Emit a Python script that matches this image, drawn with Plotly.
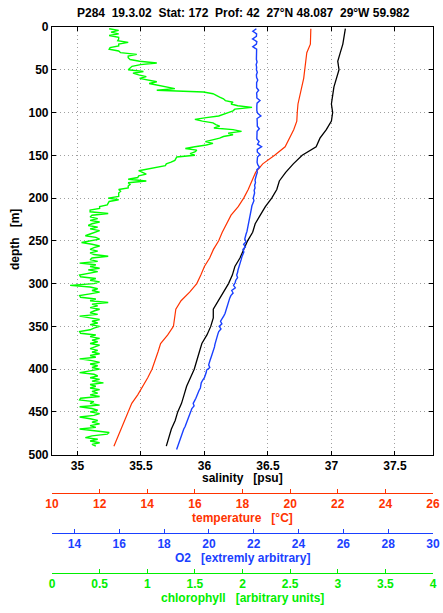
import plotly.graph_objects as go

# ---------------- data ----------------
depth_st = [2, 10, 20, 30, 40, 50, 60, 70, 80, 90, 100, 110, 120, 130, 140, 150, 160, 170, 180, 190,
            200, 210, 220, 230, 240, 250, 260, 270, 280, 290, 300, 310, 320, 330, 340, 350, 360, 370, 380, 390,
            400, 410, 420, 430, 440, 450, 460, 470, 480, 490]

salinity = [37.11, 37.10, 37.09, 37.07, 37.05, 37.06, 37.04, 37.02, 37.01, 37.00,
            37.01, 37.00, 36.96, 36.91, 36.88, 36.77, 36.70, 36.64, 36.59, 36.57,
            36.53, 36.48, 36.44, 36.40, 36.38, 36.34, 36.31, 36.28, 36.24, 36.22,
            36.19, 36.15, 36.11, 36.07, 36.07, 36.05, 36.02, 35.98, 35.96, 35.94,
            35.92, 35.89, 35.86, 35.84, 35.82, 35.79, 35.77, 35.74, 35.72, 35.70]

temperature = [20.87, 20.86, 20.85, 20.70, 20.65, 20.63, 20.57, 20.49, 20.40, 20.33,
               20.30, 20.28, 20.15, 19.98, 19.79, 19.35, 18.85, 18.55, 18.40, 18.24,
               18.05, 17.82, 17.52, 17.32, 17.15, 17.00, 16.78, 16.62, 16.40, 16.25,
               16.08, 15.78, 15.42, 15.20, 15.15, 15.10, 14.86, 14.56, 14.45, 14.32,
               14.20, 14.02, 13.82, 13.60, 13.35, 13.20, 13.06, 12.93, 12.78, 12.60]

depth_o2 = list(range(2, 495, 3))
oxygen = [22.12, 21.96, 22.13, 22.12, 21.95, 22.14, 22.12, 21.96, 22.13, 22.12,
          22.14, 22.10, 22.12, 22.15, 22.11, 22.13, 22.12, 22.16, 22.12, 22.13,
          22.18, 22.13, 22.12, 22.13, 22.22, 22.13, 22.14, 22.14, 22.28, 22.15,
          22.14, 22.13, 22.14, 22.18, 22.32, 22.15, 22.14, 22.16, 22.16, 22.25,
          22.15, 22.14, 22.16, 22.14, 22.24, 22.17, 22.35, 22.16, 22.16, 22.28,
          22.17, 22.15, 22.15, 22.18, 22.26, 22.14, 22.16, 22.12, 22.10, 22.06,
          22.08, 22.04, 22.06, 22.02, 22.04, 22.00, 21.98, 22.01, 21.96, 21.92,
          21.90, 21.88, 21.86, 21.84, 21.80, 21.78, 21.76, 21.74, 21.72, 21.70,
          21.66, 21.64, 21.60, 21.66, 21.55, 21.63, 21.52, 21.56, 21.50, 21.47,
          21.44, 21.40, 21.38, 21.35, 21.30, 21.28, 21.24, 21.28, 21.20, 21.17,
          21.10, 21.18, 21.02, 21.08, 20.98, 20.93, 20.90, 20.86, 20.82, 20.78,
          20.75, 20.72, 20.66, 20.60, 20.52, 20.58, 20.46, 20.54, 20.44, 20.40,
          20.36, 20.32, 20.30, 20.27, 20.25, 20.22, 20.18, 20.15, 20.10, 20.06,
          20.02, 19.99, 20.04, 19.90, 19.88, 19.84, 19.80, 19.72, 19.66, 19.64,
          19.62, 19.56, 19.52, 19.46, 19.42, 19.36, 19.30, 19.34, 19.24, 19.20,
          19.16, 19.12, 19.08, 19.02, 18.98, 18.94, 18.88, 18.84, 18.79, 18.75,
          18.72, 18.68, 18.62, 18.60, 18.56]

depth_chl = list(range(2, 491, 2))
chlorophyll = [0.60, 0.70, 0.62, 0.70, 0.60, 0.70, 0.70, 0.69, 0.80, 0.70,
               0.70, 0.61, 0.60, 0.70, 0.72, 0.89, 0.80, 0.80, 0.82, 0.92,
               1.10, 0.93, 0.84, 0.82, 0.80, 0.96, 0.85, 0.91, 0.99, 0.92,
               1.01, 1.10, 1.02, 1.10, 1.20, 1.29, 1.10, 1.59, 1.69, 1.72,
               1.76, 1.80, 1.82, 1.90, 1.88, 1.95, 2.10, 1.92, 1.90, 1.85,
               1.80, 1.75, 1.62, 1.50, 1.58, 1.69, 1.72, 1.76, 1.70, 1.90,
               1.99, 1.85, 1.90, 1.80, 1.76, 1.69, 1.61, 1.69, 1.62, 1.50,
               1.40, 1.52, 1.50, 1.45, 1.50, 1.31, 1.30, 1.29, 1.25, 1.20,
               1.19, 1.10, 0.99, 0.91, 0.95, 0.99, 0.91, 0.90, 0.80, 0.99,
               0.80, 0.82, 0.80, 0.80, 0.70, 0.72, 0.70, 0.70, 0.70, 0.59,
               0.70, 0.60, 0.59, 0.58, 0.50, 0.50, 0.40, 0.40, 0.59, 0.42,
               0.40, 0.48, 0.40, 0.50, 0.42, 0.38, 0.48, 0.40, 0.50, 0.44,
               0.40, 0.35, 0.46, 0.50, 0.40, 0.31, 0.42, 0.50, 0.44, 0.40,
               0.48, 0.40, 0.44, 0.59, 0.42, 0.40, 0.48, 0.29, 0.46, 0.40,
               0.50, 0.38, 0.48, 0.40, 0.29, 0.30, 0.46, 0.40, 0.50, 0.44,
               0.19, 0.40, 0.48, 0.42, 0.50, 0.40, 0.29, 0.30, 0.46, 0.40,
               0.59, 0.42, 0.48, 0.40, 0.50, 0.44, 0.40, 0.48, 0.29, 0.40,
               0.50, 0.42, 0.48, 0.40, 0.50, 0.44, 0.40, 0.29, 0.30, 0.46,
               0.40, 0.50, 0.42, 0.48, 0.40, 0.50, 0.44, 0.40, 0.48, 0.42,
               0.50, 0.40, 0.46, 0.29, 0.42, 0.50, 0.40, 0.48, 0.42, 0.50,
               0.40, 0.29, 0.44, 0.48, 0.40, 0.50, 0.42, 0.54, 0.40, 0.46,
               0.40, 0.50, 0.42, 0.48, 0.40, 0.50, 0.30, 0.29, 0.44, 0.40,
               0.50, 0.29, 0.42, 0.48, 0.40, 0.50, 0.44, 0.29, 0.40, 0.48,
               0.42, 0.50, 0.40, 0.46, 0.29, 0.42, 0.60, 0.58, 0.42, 0.35,
               0.48, 0.40, 0.50, 0.42, 0.46]

depth_ticks = [0, 50, 100, 150, 200, 250, 300, 350, 400, 450, 500]
sal_ticks = [35, 35.5, 36, 36.5, 37, 37.5]
temp_ticks = [10, 12, 14, 16, 18, 20, 22, 24, 26]
o2_ticks = [14, 16, 18, 20, 22, 24, 26, 28, 30]
chl_ticks = [0, 0.5, 1, 1.5, 2, 2.5, 3, 3.5, 4]

title_text = "P284\u00a0\u00a019.3.02\u00a0\u00a0Stat: 172\u00a0\u00a0Prof: 42\u00a0\u00a027°N 48.087\u00a0\u00a029°W 59.982"

# ---------------- style ----------------
RED = "#ff3300"
BLUE = "#1a40ff"
GREEN = "#00ee00"
FONT = "Liberation Sans, Arial, Helvetica, sans-serif"
GRID = dict(showgrid=True, gridcolor="#a0a0a0", griddash="1px,3px", gridwidth=1)

def f(color="black", size=12):
    return dict(family=FONT, size=size, color=color, weight="bold")

fig = go.Figure()
fig.add_trace(go.Scatter(x=chlorophyll, y=depth_chl, xaxis="x4", yaxis="y", mode="lines",
                         line=dict(color="#00ff00", width=1.4), showlegend=False))
fig.add_trace(go.Scatter(x=oxygen, y=depth_o2, xaxis="x3", yaxis="y", mode="lines",
                         line=dict(color=BLUE, width=1.4), showlegend=False))
fig.add_trace(go.Scatter(x=temperature, y=depth_st, xaxis="x2", yaxis="y", mode="lines",
                         line=dict(color=RED, width=1.2), showlegend=False))
fig.add_trace(go.Scatter(x=salinity, y=depth_st, xaxis="x", yaxis="y", mode="lines",
                         line=dict(color="black", width=1.3), showlegend=False))

# paper geometry: plot left 52, right 433, paper top 27, bottom 578
P_BOTTOM = 578.0
P_H = 551.0
def py(px):
    return (P_BOTTOM - px) / P_H
def pxx(px):
    return (px - 52.0) / 381.0

fig.update_layout(
    width=443, height=613,
    margin=dict(l=52, r=10, t=27, b=35, autoexpand=False),
    plot_bgcolor="white", paper_bgcolor="white",
    font=f(),
    yaxis=dict(domain=[py(454.7), 1], range=[500, 0], tickvals=depth_ticks,
               showline=True, linecolor="black", linewidth=1.2, mirror="ticks",
               ticks="inside", ticklen=4, tickcolor="black",
               zeroline=False, tickfont=f(), **GRID),
    xaxis=dict(range=[34.8, 37.8], tickvals=sal_ticks, anchor="y",
               showline=True, linecolor="black", linewidth=1.2, mirror="ticks",
               ticks="inside", ticklen=4, tickcolor="black",
               zeroline=False, tickfont=f(), **GRID),
    xaxis2=dict(range=[10, 26], tickvals=temp_ticks, overlaying="x", anchor="free",
                position=py(493), side="bottom", showline=True, linecolor=RED, linewidth=1,
                ticks="inside", ticklen=4, tickcolor=RED, showgrid=False, zeroline=False,
                tickfont=f(RED)),
    xaxis3=dict(range=[13, 30], tickvals=o2_ticks, overlaying="x", anchor="free",
                position=py(533), side="bottom", showline=True, linecolor=BLUE, linewidth=1,
                ticks="inside", ticklen=4, tickcolor=BLUE, showgrid=False, zeroline=False,
                tickfont=f(BLUE)),
    xaxis4=dict(range=[0, 4], tickvals=chl_ticks, overlaying="x", anchor="free",
                position=py(573), side="bottom", showline=True, linecolor=GREEN, linewidth=1,
                ticks="inside", ticklen=4, tickcolor=GREEN, showgrid=False, zeroline=False,
                tickfont=f(GREEN)),
)

annots = [
    (title_text, 243, 13, "black", 0),
    ("salinity\u00a0\u00a0\u00a0[psu]", 242, 478, "black", 0),
    ("temperature\u00a0\u00a0\u00a0[°C]", 242.5, 518.3, RED, 0),
    ("O2\u00a0\u00a0\u00a0[extremly arbitrary]", 242.3, 558.3, BLUE, 0),
    ("chlorophyll\u00a0\u00a0\u00a0[arbitrary units]", 242.5, 597.7, GREEN, 0),
    ("depth\u00a0\u00a0\u00a0[m]", 15, 240, "black", -90),
]
for text, x, y, col, ang in annots:
    fig.add_annotation(text=text, x=pxx(x), y=py(y), xref="paper", yref="paper",
                       xanchor="center", yanchor="middle", showarrow=False,
                       textangle=ang, font=f(col))

fig.write_html("out.html",
               config={"displayModeBar": False},
               post_script="document.body.style.margin='0';document.body.style.padding='0';")
